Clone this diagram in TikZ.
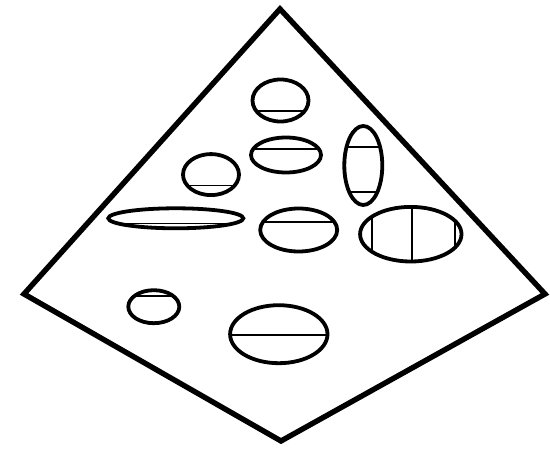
\documentclass[tikz,border=0pt]{standalone}
\begin{document}
\begin{tikzpicture}[x=1pt,y=-1pt,
  frame/.style={line width=5.4pt,line join=miter},
  ell/.style={line width=3.8pt},
  chord/.style={line width=1.9pt}]
\useasboundingbox (0,0) rectangle (550,449);
% outer kite
\draw[frame] (280,9) -- (545,294) -- (281,441) -- (24,294) -- cycle;
% ellipse with horizontal chords: center, radii, chord y
\newcommand{\hell}[5]{%
  \begin{scope}\clip (#1,#2) ellipse [x radius=#3, y radius=#4];
  \draw[chord] (#1-#3,#5) -- (#1+#3,#5);\end{scope}
  \draw[ell] (#1,#2) ellipse [x radius=#3, y radius=#4];}
\hell{280.5}{100.5}{28}{21}{111}
\hell{286}{155}{35}{17.5}{149}
\hell{211}{174.6}{28}{20.5}{185.5}
\hell{175.8}{218.3}{67.5}{10}{223.5}
\hell{298.7}{230}{38.5}{21.5}{222.3}
\hell{153.8}{306.7}{25.5}{16.5}{296}
\hell{278.8}{334.2}{48.7}{29}{335}
% vertical ellipse with two horizontal chords
\begin{scope}\clip (363.3,165.5) ellipse [x radius=19, y radius=39.5];
  \draw[chord] (340,147.3) -- (390,147.3);
  \draw[chord] (340,191.7) -- (390,191.7);
\end{scope}
\draw[ell] (363.3,165.5) ellipse [x radius=19, y radius=39.5];
% right ellipse with vertical chords
\begin{scope}\clip (410.8,234.2) ellipse [x radius=50.7, y radius=27.3];
  \draw[chord] (371.7,200) -- (371.7,270);
  \draw[chord] (412.3,200) -- (412.3,270);
  \draw[chord] (455,200) -- (455,270);
\end{scope}
\draw[ell] (410.8,234.2) ellipse [x radius=50.7, y radius=27.3];
\end{tikzpicture}
\end{document}
